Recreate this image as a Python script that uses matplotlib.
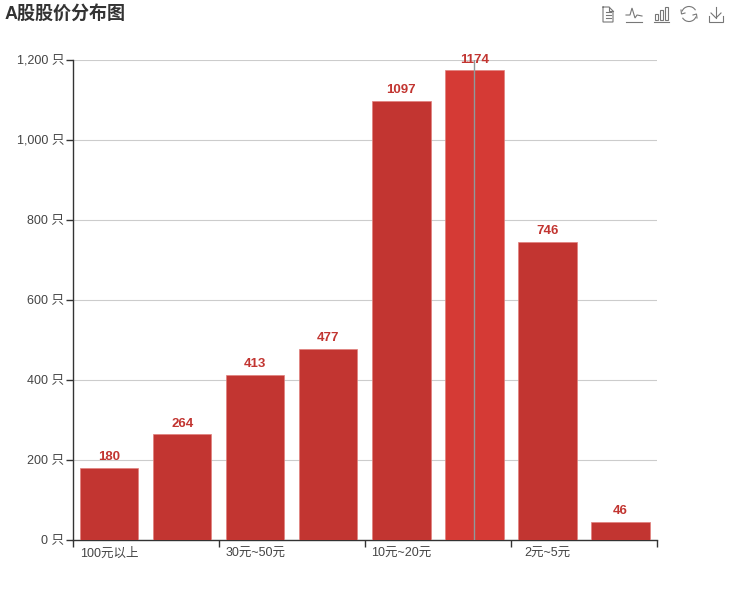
import matplotlib
matplotlib.use("Agg")
import matplotlib.pyplot as plt
from matplotlib.patches import Rectangle, Arc

FONT = ['Liberation Sans', 'Noto Sans CJK SC', 'DejaVu Sans']
plt.rcParams['font.family'] = FONT

title = "A股股价分布图"
categories = ["100元以上", "50元~100元", "30元~50元", "20元~30元",
              "10元~20元", "5元~10元", "2元~5元", "2元以下"]
values = [180, 264, 413, 477, 1097, 1174, 746, 46]
visible_labels = ["100元以上", "", "30元~50元", "", "10元~20元", "", "2元~5元", ""]
yticks = [0, 200, 400, 600, 800, 1000, 1200]
highlight = 5

W, H = 730, 600
fig = plt.figure(figsize=(W / 100, H / 100), dpi=100, facecolor='white')
ax = fig.add_axes([72.7 / W, 1 - 540 / H, 584.4 / W, 480 / H])

BAR = '#c23531'
HI = '#d53a35'
TXT = '#333333'
x = list(range(len(categories)))
colors = [HI if i == highlight else BAR for i in x]
ax.bar(x, values, width=0.797, color=colors, edgecolor='#e0807d', linewidth=0.5, zorder=3)
ax.set_xlim(-0.5, len(categories) - 0.5)
ax.set_ylim(0, 1200)

ax.set_yticks(yticks)
ax.set_yticklabels([f"{v:,} 只" for v in yticks], fontsize=9, color='#444444')
ax.tick_params(axis='y', length=5, width=1, color=TXT, pad=1)
ax.grid(axis='y', color='#cccccc', linewidth=0.8, zorder=0)
ax.set_axisbelow(True)

ax.set_xticks([-0.5, 1.5, 3.5, 5.5, 7.5])
ax.set_xticklabels([])
ax.tick_params(axis='x', length=5, width=1, color=TXT)
for i, lab in enumerate(visible_labels):
    if lab:
        ax.annotate(lab, (i, 0), xytext=(0, -5.5), textcoords='offset points',
                    ha='center', va='top', fontsize=9, color='#444444')

for s in ('top', 'right'):
    ax.spines[s].set_visible(False)
for s in ('left', 'bottom'):
    ax.spines[s].set_color(TXT)
    ax.spines[s].set_linewidth(1)

for i, v in zip(x, values):
    ax.annotate(str(v), (i, v), xytext=(0, 3.5), textcoords='offset points',
                ha='center', va='bottom', fontsize=9.5, fontweight='bold',
                color=BAR, zorder=6)

# axis pointer on hovered category
ax.axvline(highlight, color='#8e9a9c', linewidth=1, zorder=5)

fig.text(5 / W, 1 - 14 / H, title, fontsize=13, fontweight='bold', color=TXT,
         ha='left', va='center')

# toolbox icons in pixel coordinates
ov = fig.add_axes([0, 0, 1, 1], facecolor='none')
ov.set_xlim(0, W)
ov.set_ylim(H, 0)
ov.axis('off')
IC = '#777777'
lw = 0.8
def pl(xs, ys):
    ov.plot(xs, ys, color=IC, lw=lw, solid_joinstyle='miter')
# data view
pl([603, 603, 613, 613, 609, 603], [7, 22, 22, 11, 7, 7])
pl([609, 609, 613], [7, 11, 11])
for yy in (12, 15, 18):
    pl([605.5, 610.5], [yy, yy])
# line icon
pl([626, 642], [22, 22])
pl([626, 630, 632, 635, 637, 642], [15, 15, 8, 18, 15, 16])
# bar icon
pl([654, 669], [22, 22])
for bx, top in ((655, 14), (660, 10), (665, 7)):
    ov.add_patch(Rectangle((bx, top), 3, 20 - top, fill=False, ec=IC, lw=lw))
# restore
ov.add_patch(Arc((689, 14), 15, 15, theta1=200, theta2=330, ec=IC, lw=lw))
ov.add_patch(Arc((689, 14), 15, 15, theta1=20, theta2=150, ec=IC, lw=lw))
pl([681, 681.5, 685], [10, 14, 13])
pl([697, 696.5, 693], [18, 14, 15])
# save
pl([716, 716], [7, 18])
pl([711, 716, 721], [13, 18, 13])
pl([709, 709, 723, 723], [16, 22, 22, 16])

fig.savefig("out.png", dpi=100, facecolor='white')
